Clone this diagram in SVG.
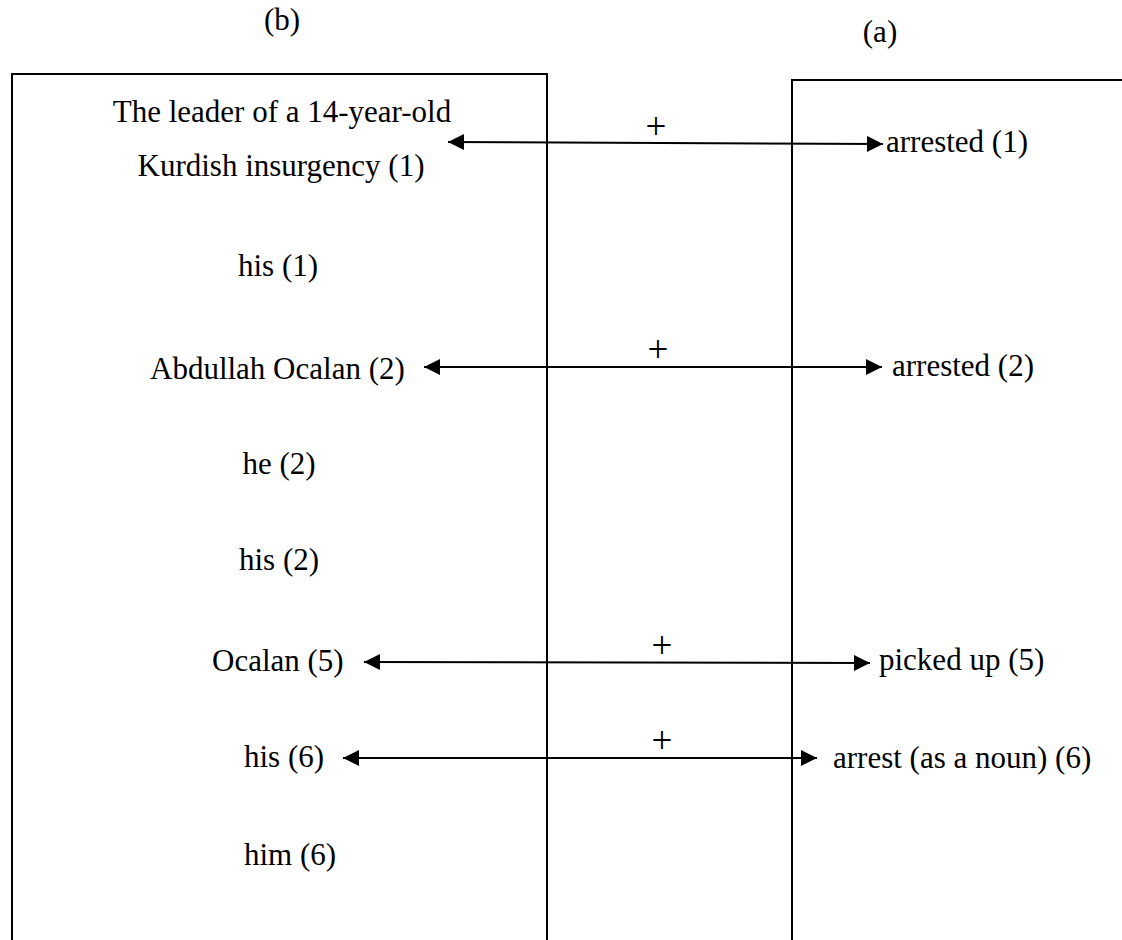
<svg xmlns="http://www.w3.org/2000/svg" width="1122" height="940" viewBox="0 0 1122 940">
  <style>
    text { font-family: "Liberation Serif", "Times New Roman", serif; font-size: 31px; fill: #000; }
    .c { text-anchor: middle; }
    .plus { font-size: 37px; text-anchor: middle; }
    .frame { fill: none; stroke: #000; stroke-width: 2; }
    .link { stroke: #000; stroke-width: 2; fill: none; marker-start: url(#head); marker-end: url(#head); }
  </style>
  <defs>
    <marker id="head" viewBox="0 0 10 10" refX="10" refY="5" markerWidth="9" markerHeight="8" orient="auto-start-reverse" markerUnits="strokeWidth">
      <path d="M0,0 L10,5 L0,10 Z" fill="#000"/>
    </marker>
  </defs>

  <!-- panel labels -->
  <text class="c" x="282" y="30">(b)</text>
  <text class="c" x="880" y="42">(a)</text>

  <!-- frames: open at the bottom -->
  <path class="frame" d="M12,940 L12,74 L547,74 L547,940"/>
  <path class="frame" d="M792,940 L792,80 L1122,80"/>

  <g id="b-nodes">
    <g id="b-leader"><text class="c" x="282" y="122">The leader of a 14-year-old</text><text class="c" x="281" y="176">Kurdish insurgency (1)</text></g>
    <g id="b-his1"><text class="c" x="278" y="276">his (1)</text></g>
    <g id="b-abdullah"><text x="150" y="379">Abdullah Ocalan (2)</text></g>
    <g id="b-he2"><text class="c" x="279" y="474">he (2)</text></g>
    <g id="b-his2"><text class="c" x="279" y="570">his (2)</text></g>
    <g id="b-ocalan5"><text x="212" y="671">Ocalan (5)</text></g>
    <g id="b-his6"><text x="244" y="767">his (6)</text></g>
    <g id="b-him6"><text x="244" y="865">him (6)</text></g>
  </g>

  <g id="a-nodes">
    <g id="a-arrested1"><text x="886" y="152">arrested (1)</text></g>
    <g id="a-arrested2"><text x="892" y="376">arrested (2)</text></g>
    <g id="a-picked5"><text x="879" y="670">picked up (5)</text></g>
    <g id="a-arrest6"><text x="833" y="768">arrest (as a noun) (6)</text></g>
  </g>

  <g id="connectors">
    <line class="link" x1="448" y1="142" x2="883" y2="144"/>
    <line class="link" x1="424" y1="367" x2="882" y2="367"/>
    <line class="link" x1="364" y1="662" x2="870" y2="663"/>
    <line class="link" x1="343" y1="758" x2="817" y2="758"/>
    <text class="plus" x="656" y="139">+</text>
    <text class="plus" x="658" y="362">+</text>
    <text class="plus" x="662" y="658">+</text>
    <text class="plus" x="662" y="753">+</text>
  </g>
</svg>
